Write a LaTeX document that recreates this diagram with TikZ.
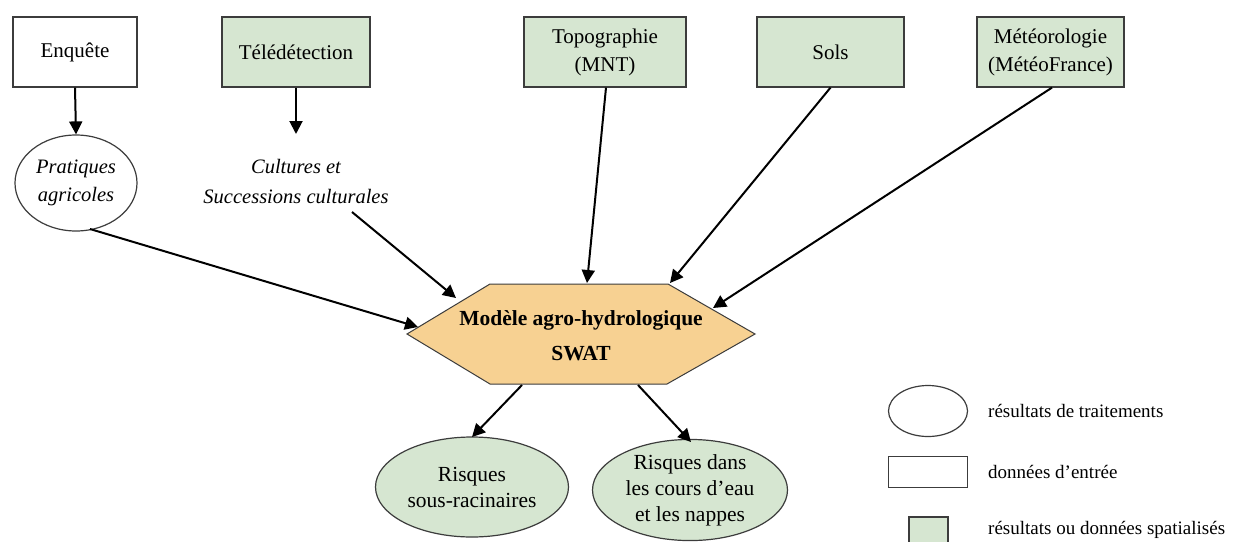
\documentclass[tikz,border=0pt]{standalone}
\usepackage{fontspec}
\setmainfont{Liberation Serif}
\usetikzlibrary{arrows.meta,calc,shapes.geometric}
\definecolor{bggreen}{RGB}{214,230,209}
\definecolor{hexfill}{RGB}{247,209,146}
\definecolor{edgegray}{RGB}{60,60,60}
\tikzset{
  inbox/.style={draw=edgegray,line width=1.2pt,minimum width=#1,minimum height=70pt,inner sep=0pt,align=center,font=\fontsize{21}{28}\selectfont},
  greenbox/.style={inbox=#1,fill=bggreen},
  resell/.style={ellipse,draw=edgegray,line width=1.2pt,inner sep=0pt,align=center,font=\fontsize{21.5}{26}\selectfont},
  flow/.style={-{Triangle[length=13pt,width=13pt]},line width=2pt,black},
  legtext/.style={anchor=west,inner sep=0pt,font=\fontsize{19}{22}\selectfont},
}
\begin{document}
\begin{tikzpicture}[x=1pt,y=-1pt]
\useasboundingbox (0,0) rectangle (1233,541);
\fill[white] (0,0) rectangle (1233,541);
% top boxes
\node[inbox=124pt] (enq) at (75,52) {Enquête};
\node[greenbox=148pt] (tele) at (296,52) {Télédétection};
\node[greenbox=162pt] (topo) at (605,52) {Topographie\\(MNT)};
\node[greenbox=147pt] (sols) at (830.5,52) {Sols};
\node[greenbox=147pt] (meteo) at (1050.5,52) {Météorologie\\(MétéoFrance)};
% intermediate
\node[resell,minimum width=122pt,minimum height=96pt,font=\fontsize{20.5}{28}\selectfont\itshape] (prat) at (76,183) {Pratiques\\agricoles};
\node[align=center,inner sep=0pt,font=\fontsize{20.5}{30}\selectfont\itshape] (cult) at (296,182) {Cultures et\\Successions culturales};
% hexagon
\draw[draw=edgegray,line width=1pt,fill=hexfill] (407,334) -- (490,284) -- (668,284) -- (755,334) -- (667,384) -- (490,384) -- cycle;
\node[inner sep=0pt,align=center,font=\fontsize{21.5}{35}\selectfont\bfseries] (swat) at (581,336) {Modèle agro-hydrologique\\SWAT};
% outputs
\node[resell,fill=bggreen,minimum width=193pt,minimum height=100pt] (r1) at (472,487) {Risques\\sous-racinaires};
\node[resell,fill=bggreen,minimum width=195pt,minimum height=96pt] (r2) at (690,490) {Risques dans\\les cours d’eau\\et les nappes};
% coordinates for connector ends
\coordinate (teleend) at (296,134);
\coordinate (pratout) at (90,229);
\coordinate (cultout) at (352,212);
\coordinate (hexA) at (418,327);
\coordinate (hexB) at (456,298);
\coordinate (hexC) at (587,283);
\coordinate (hexD) at (670,283);
\coordinate (hexE) at (713,308);
\coordinate (hexF) at (522,385);
\coordinate (hexG) at (638,385);
\coordinate (r1in) at (472,437);
\coordinate (r2in) at (691,442);
% connectors
\draw[flow] (enq.south) -- (prat.north);
\draw[flow] (tele.south) -- (teleend);
\draw[flow] (pratout) -- (hexA);
\draw[flow] (cultout) -- (hexB);
\draw[flow] ($(topo.south)+(1,0)$) -- (hexC);
\draw[flow] (sols.south) -- (hexD);
\draw[flow] ($(meteo.south)+(1.5,0)$) -- (hexE);
\draw[flow] (hexF) -- (r1in);
\draw[flow] (hexG) -- (r2in);
% legend
\node[ellipse,draw=edgegray,line width=1.2pt,minimum width=79pt,minimum height=51pt,inner sep=0pt] (legell) at (928,411) {};
\node[draw=edgegray,line width=1.2pt,minimum width=79pt,minimum height=31pt,inner sep=0pt] (legrect) at (928,472) {};
\node[draw=edgegray,line width=1.2pt,fill=bggreen,minimum width=39pt,minimum height=26pt,inner sep=0pt] (leggreen) at (928.5,530) {};
\node[legtext] (l1) at (988,411) {résultats de traitements};
\node[legtext] (l2) at (988,472) {données d’entrée};
\node[legtext] (l3) at (988,530) {résultats ou données spatialisés};
\end{tikzpicture}
\end{document}
